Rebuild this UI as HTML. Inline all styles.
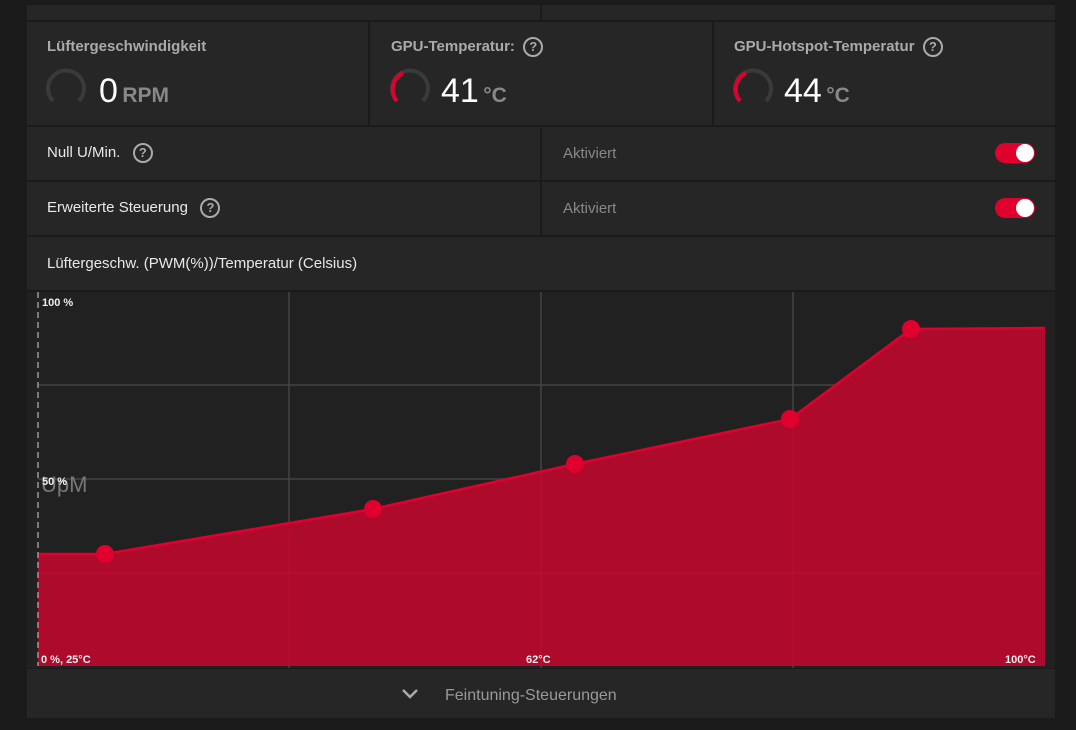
<!DOCTYPE html>
<html><head><meta charset="utf-8"><style>
*{margin:0;padding:0;box-sizing:border-box}
body{width:1076px;height:730px;background:#1b1b1b;font-family:"Liberation Sans",sans-serif;position:relative;overflow:hidden}
.a{position:absolute}
.p{background:#262626}
.t{color:#aaa;font-weight:bold;font-size:15px}
.w{color:#e8e8e8;font-size:15px}
.q{display:inline-block;width:20px;height:20px;border:2px solid #aaa;border-radius:50%;color:#aaa;font-size:13px;font-weight:bold;text-align:center;line-height:16px;vertical-align:middle}
.big{color:#fff;font-size:34px}
.u{color:#888;font-size:21px;font-weight:bold}
.tg{width:40px;height:20px;border-radius:10px;background:#e0002d}
.tg::after{content:"";position:absolute;right:1px;top:1px;width:18px;height:18px;border-radius:50%;background:#fff}
</style></head><body>
<div class="a" style="left:27px;top:5px;width:1028px;height:15px;background:#262626"></div>
<div class="a" style="left:540px;top:5px;width:2px;height:15px;background:#1b1b1b"></div>
<div class="a p" style="left:27px;top:22px;width:341px;height:103px"></div>
<div class="a p" style="left:370px;top:22px;width:342px;height:103px"></div>
<div class="a p" style="left:714px;top:22px;width:341px;height:103px"></div>
<div class="a t" style="left:47px;top:38px">Lüftergeschwindigkeit</div>
<div class="a t" style="left:391px;top:37px">GPU-Temperatur: &nbsp;<span class="q">?</span></div>
<div class="a t" style="left:734px;top:37px">GPU-Hotspot-Temperatur &nbsp;<span class="q">?</span></div>
<svg class="a" style="left:44px;top:66px" width="44" height="40"><path d="M9 35 A18 18 0 1 1 35 35" fill="none" stroke="#3a3a3a" stroke-width="4"/></svg>
<svg class="a" style="left:388px;top:66px" width="44" height="40"><path d="M9 35 A18 18 0 1 1 35 35" fill="none" stroke="#3a3a3a" stroke-width="4"/><path d="M9 35 A18 18 0 0 1 15 7" fill="none" stroke="#e0002d" stroke-width="4"/></svg>
<svg class="a" style="left:731px;top:66px" width="44" height="40"><path d="M9 35 A18 18 0 1 1 35 35" fill="none" stroke="#3a3a3a" stroke-width="4"/><path d="M9 35 A18 18 0 0 1 15 7" fill="none" stroke="#e0002d" stroke-width="4"/></svg>
<div class="a" style="left:99px;top:72px"><span class="big">0</span> <span class="u">RPM</span></div>
<div class="a" style="left:441px;top:72px"><span class="big">41</span> <span class="u">°C</span></div>
<div class="a" style="left:784px;top:72px"><span class="big">44</span> <span class="u">°C</span></div>
<div class="a p" style="left:27px;top:127px;width:513px;height:53px"></div>
<div class="a p" style="left:542px;top:127px;width:513px;height:53px"></div>
<div class="a p" style="left:27px;top:182px;width:513px;height:53px"></div>
<div class="a p" style="left:542px;top:182px;width:513px;height:53px"></div>
<div class="a p" style="left:27px;top:237px;width:1028px;height:53px"></div>
<div class="a w" style="left:47px;top:143px">Null U/Min. &nbsp;&nbsp;<span class="q">?</span></div>
<div class="a w" style="left:47px;top:198px">Erweiterte Steuerung &nbsp;&nbsp;<span class="q">?</span></div>
<div class="a w" style="left:47px;top:255px">Lüftergeschw. (PWM(%))/Temperatur (Celsius)</div>
<div class="a" style="left:563px;top:145px;color:#888;font-size:15px">Aktiviert</div>
<div class="a" style="left:563px;top:200px;color:#888;font-size:15px">Aktiviert</div>
<div class="a tg" style="left:995px;top:143px"></div>
<div class="a tg" style="left:995px;top:198px"></div>
<svg class="a" style="left:27px;top:292px" width="1028" height="376">
<rect width="1028" height="376" fill="#212121"/>
<g stroke="#444" stroke-width="1.5">
<line x1="262" y1="0" x2="262" y2="376"/><line x1="514" y1="0" x2="514" y2="376"/><line x1="766" y1="0" x2="766" y2="376"/>
<line x1="11" y1="93" x2="1018" y2="93"/><line x1="11" y1="187" x2="1018" y2="187"/><line x1="11" y1="281" x2="1018" y2="281"/>
</g>
<polygon points="11,262 78,262 346,217 548,172 763,127 884,37 1018,36 1018,374 11,374" fill="#ae0a2c"/>
<g stroke="#c4143a" stroke-width="1" opacity=".5"><line x1="262" y1="240" x2="262" y2="374"/><line x1="514" y1="180" x2="514" y2="374"/><line x1="766" y1="130" x2="766" y2="374"/><line x1="11" y1="281" x2="1018" y2="281"/></g>
<polyline points="11,262 78,262 346,217 548,172 763,127 884,37 1018,36" fill="none" stroke="#e0002d" stroke-width="2.5"/>
<g fill="#e0002d"><circle cx="78" cy="262" r="9"/><circle cx="346" cy="217" r="9"/><circle cx="548" cy="172" r="9"/><circle cx="763" cy="127" r="9"/><circle cx="884" cy="37" r="9"/></g>
<line x1="11" y1="0" x2="11" y2="374" stroke="#999" stroke-dasharray="6,4" stroke-width="1.5"/>
<text x="15" y="14" fill="#eee" font-size="11" font-weight="bold" font-family="Liberation Sans">100 %</text>
<text x="14" y="200" fill="#777" font-size="22" font-family="Liberation Sans">UpM</text>
<text x="15" y="193" fill="#eee" font-size="11" font-weight="bold" font-family="Liberation Sans">50 %</text>
<text x="14" y="371" fill="#eee" font-size="11" font-weight="bold" font-family="Liberation Sans">0 %, 25°C</text>
<text x="499" y="371" fill="#eee" font-size="11" font-weight="bold" font-family="Liberation Sans">62°C</text>
<text x="978" y="371" fill="#eee" font-size="11" font-weight="bold" font-family="Liberation Sans">100°C</text>
</svg>
<div class="a p" style="left:27px;top:669px;width:1028px;height:49px"></div>
<svg class="a" style="left:401px;top:688px" width="18" height="12"><polyline points="2,2 9,9 16,2" fill="none" stroke="#aaa" stroke-width="2.5"/></svg>
<div class="a" style="left:445px;top:687px;color:#999;font-size:16px">Feintuning-Steuerungen</div>
</body></html>
